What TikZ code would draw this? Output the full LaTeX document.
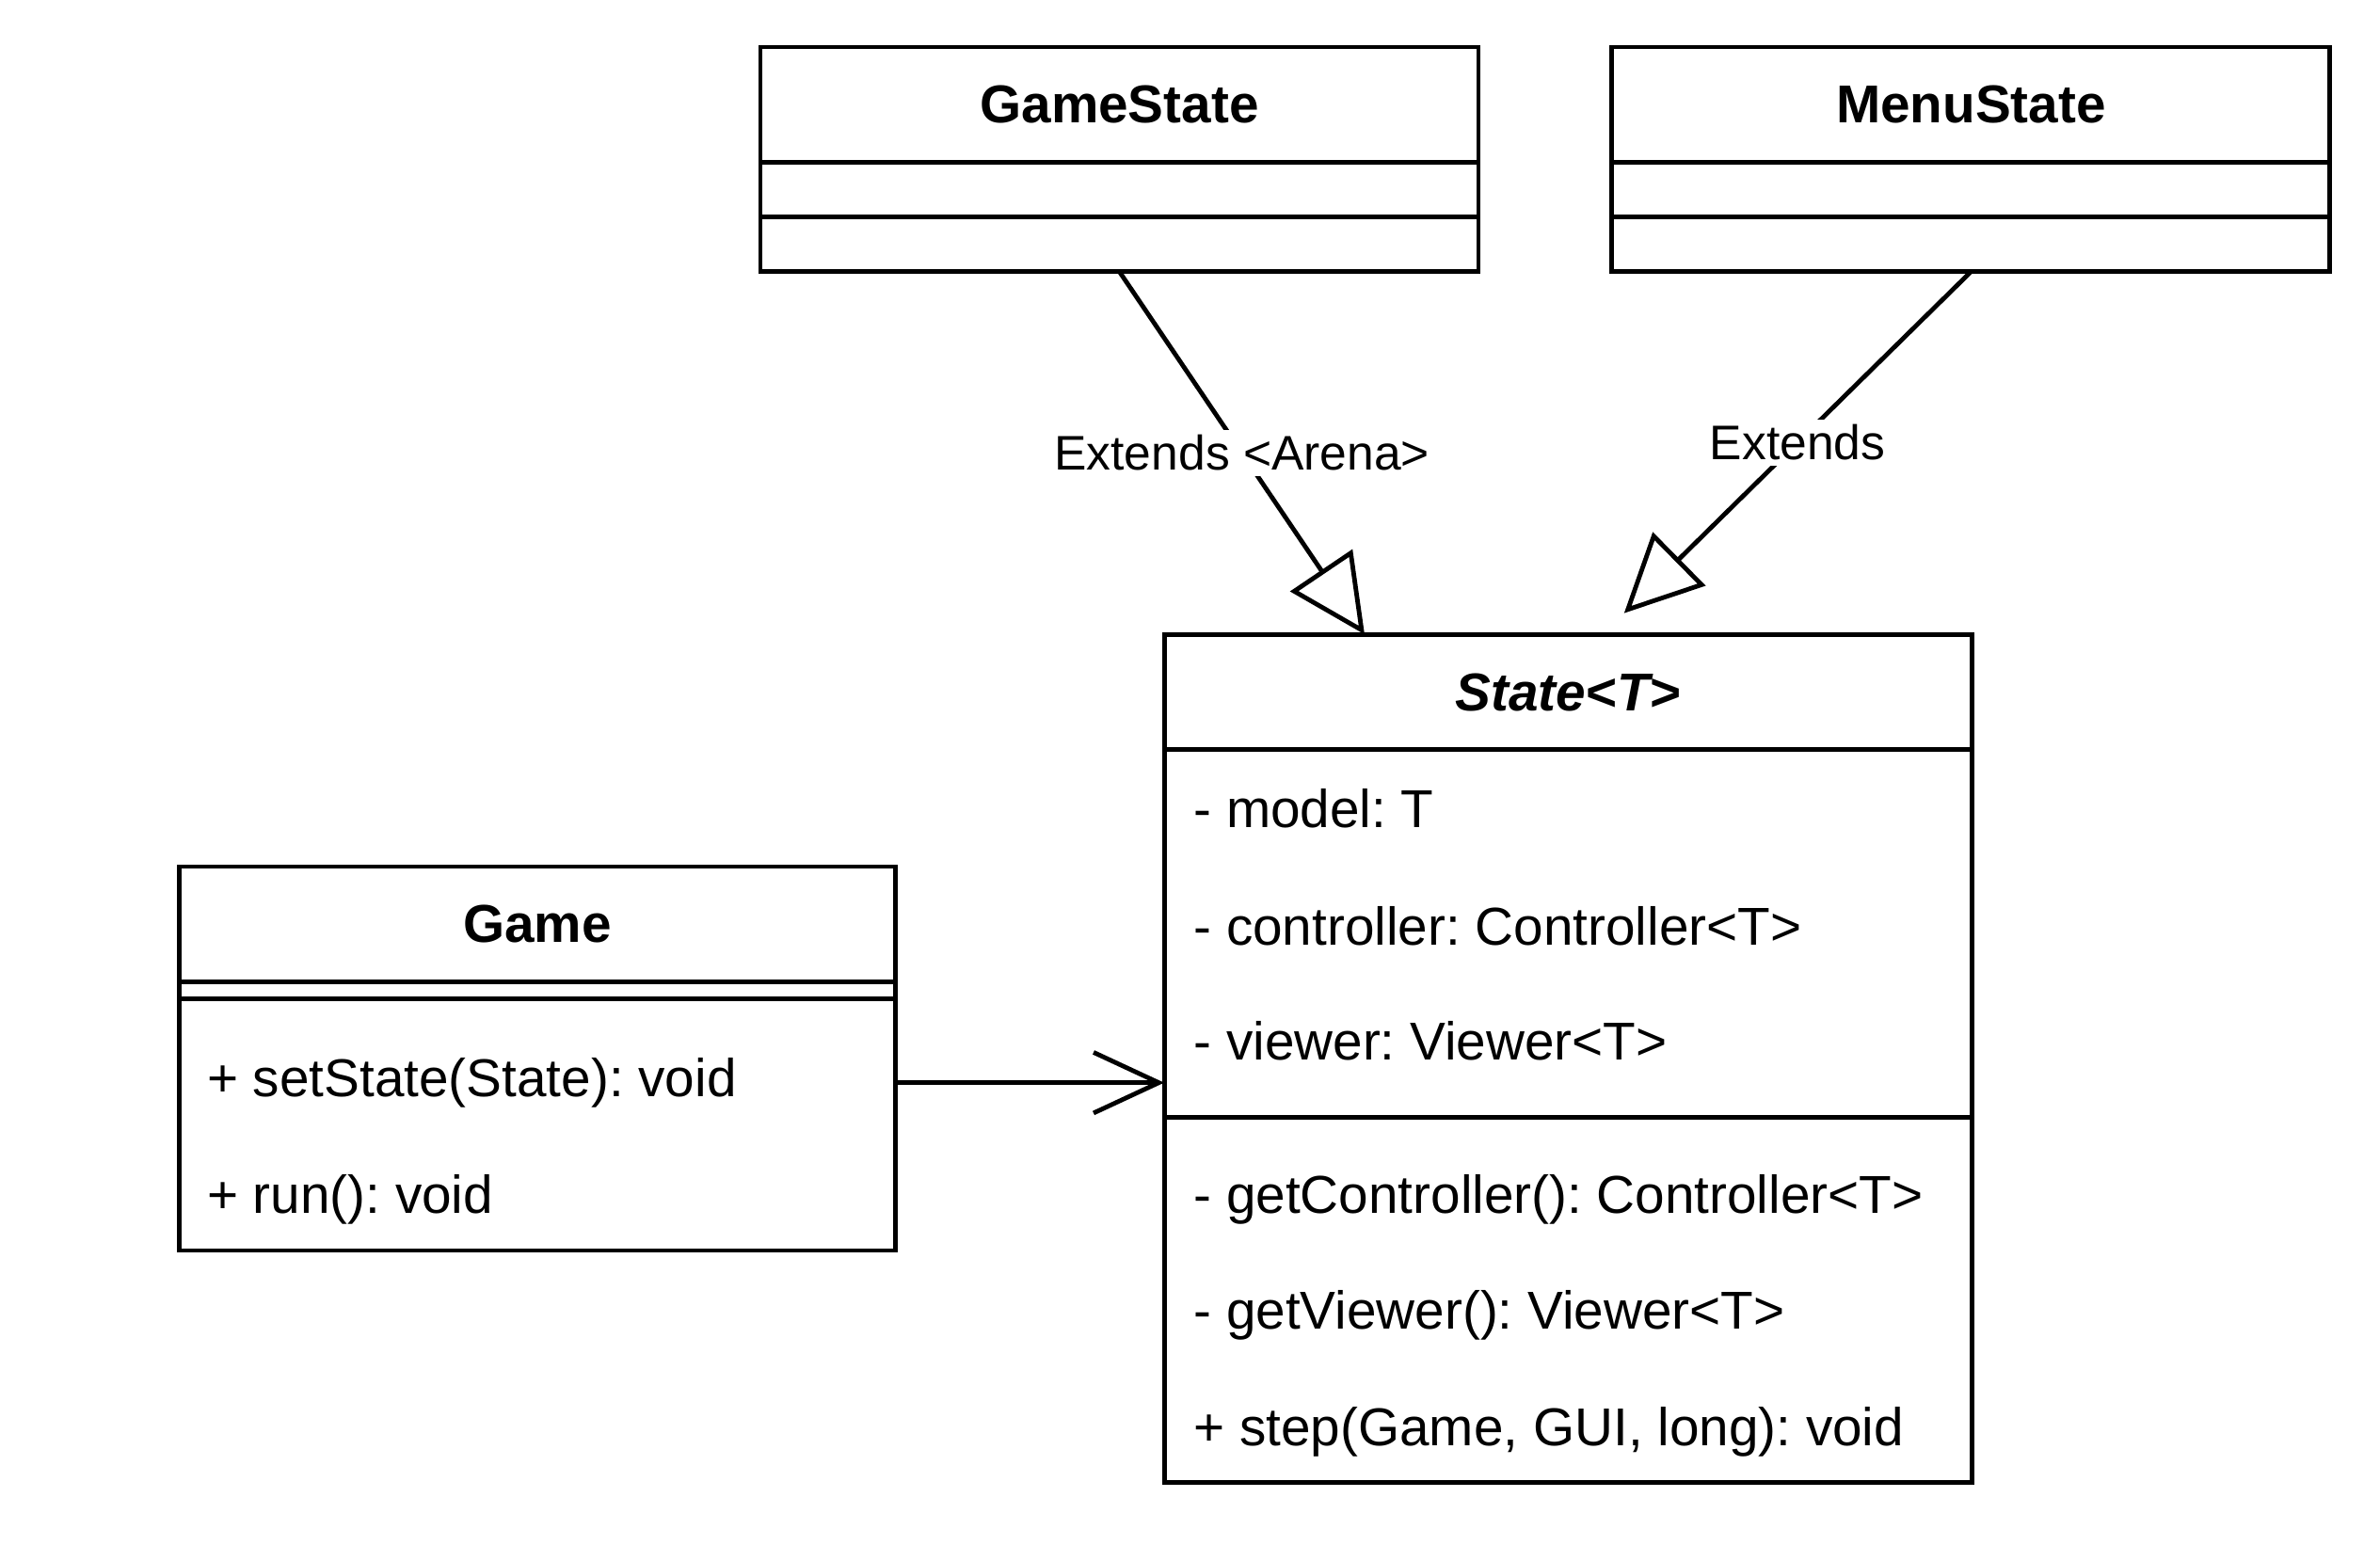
\documentclass[tikz,border=0pt]{standalone}
\usepackage{fontspec}
\setmainfont{Liberation Sans}
\usepackage{tikz}
\usetikzlibrary{calc,arrows.meta}
\frenchspacing

\begin{document}
\begin{tikzpicture}[x=1mm,y=-1mm,line width=0.85pt,
  every node/.style={font=\fontsize{10pt}{12pt}\selectfont},
  head/.style={draw,outer sep=0pt,inner sep=0pt,minimum height=7.6mm,font=\fontsize{10pt}{12pt}\selectfont\bfseries},
  part/.style={draw,anchor=north,outer sep=0pt,inner sep=0pt},
  row/.style={anchor=base west,inner sep=0pt},
  lbl/.style={fill=white,inner sep=1pt,font=\fontsize{9.1pt}{11pt}\selectfont},
  inherit/.style={-{Triangle[open,length=5.1mm,width=4.9mm]}},
  assoc/.style={-{Straight Barb[length=4.3mm,width=4mm]}}]
  \useasboundingbox (0,0) rectangle (156.8,101.8);

  % subclasses
  \node[head,minimum width=47.3mm] (gamestate) at (73.75,6.9) {GameState};
  \node[part,minimum width=47.3mm,minimum height=3.6mm] (gamestate a) at (gamestate.south) {};
  \node[part,minimum width=47.3mm,minimum height=3.6mm] (gamestate m) at (gamestate a.south) {};
  \node[head,minimum width=47.3mm] (menustate) at (129.85,6.9) {MenuState};
  \node[part,minimum width=47.3mm,minimum height=3.6mm] (menustate a) at (menustate.south) {};
  \node[part,minimum width=47.3mm,minimum height=3.6mm] (menustate m) at (menustate a.south) {};

  % State<T>
  \node[head,minimum width=53.2mm,font=\fontsize{10pt}{12pt}\selectfont\bfseries\itshape] (state) at (103.3,45.6) {State<T>};
  \node[part,minimum width=53.2mm,minimum height=24.2mm] (state a) at (state.south) {};
  \node[part,minimum width=53.2mm,minimum height=24.1mm] (state m) at (state a.south) {};
  \node[row] (model) at (78.5,54.55) {- model: T};
  \node[row] (controller) at (78.5,62.25) {- controller: Controller<T>};
  \node[row] (viewer) at (78.5,69.85) {- viewer: Viewer<T>};
  \node[row] (getcontroller) at (78.5,79.95) {- getController(): Controller<T>};
  \node[row] (getviewer) at (78.5,87.55) {- getViewer(): Viewer<T>};
  \node[row] (step) at (78.5,95.25) {+ step(Game, GUI, long): void};

  % Game
  \node[head,minimum width=47.2mm] (game) at (35.4,60.9) {Game};
  \node[part,minimum width=47.2mm,minimum height=1.1mm] (game a) at (game.south) {};
  \node[part,minimum width=47.2mm,minimum height=16.6mm] (game m) at (game a.south) {};
  \node[row] (setstate) at (13.5,72.25) {+ setState(State): void};
  \node[row] (run) at (13.5,79.95) {+ run(): void};

  % connectors
  \coordinate (gamestate tip) at ($(state.north west)+(13.2,0)$);
  \coordinate (menustate tip) at ($(state.north west)+(30.3,-1.4)$);
  \draw[inherit] (gamestate m.south) -- node[lbl] {Extends <Arena>} (gamestate tip);
  \draw[inherit] (menustate m.south) -- node[lbl] {Extends} (menustate tip);
  \draw[assoc] (game m.east |- setstate.center) -- (state a.west |- setstate.center);
\end{tikzpicture}
\end{document}
